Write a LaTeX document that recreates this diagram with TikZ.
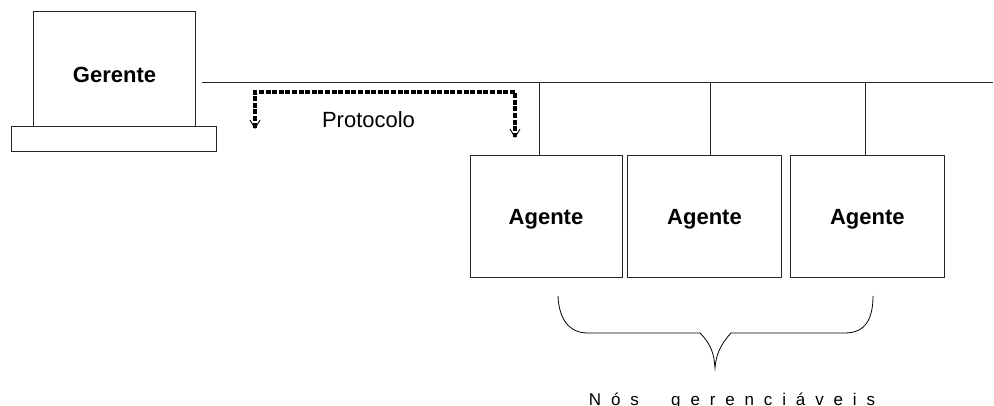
\documentclass[tikz,border=0pt]{standalone}
\usepackage{fontspec}
\setmainfont{Liberation Sans}
\usetikzlibrary{arrows.meta}
\begin{document}
\begin{tikzpicture}[x=1pt,y=-1pt,
  box/.style={draw=black!85,line width=0.9pt,rectangle,inner sep=0pt,fill=white,
    font=\fontsize{22}{26}\selectfont\bfseries,text height=15.75pt,text depth=0pt},
  lbl/.style={inner sep=0pt,anchor=base},
  wire/.style={draw=black!85,line width=0.9pt},
  barb/.tip={Straight Barb[length=8pt,width=10pt,line width=0.9pt]},
  proto/.style={draw=black,line width=3.2pt,dash pattern=on 5pt off 1.6pt,barb-barb},
  spaced/.style={inner sep=0pt,anchor=base west,
    font=\fontsize{17}{20}\selectfont\addfontfeature{LetterSpace=58}}
]
\useasboundingbox (0,0) rectangle (994,406);
% manager
\node[box,minimum width=162pt,minimum height=114.5pt] (ger) at (114,68.8) {};
\node[box,minimum width=205pt,minimum height=25.7pt] (base) at (114.2,138.9) {};
\node[lbl,font=\fontsize{22}{26}\selectfont\bfseries] (gert) at (114.5,82.7) {Gerente};
% bus
\coordinate (busL) at (202,82.5);
\coordinate (busR) at (993,82.5);
\draw[wire] (busL) -- (busR);
% agents
\node[box,minimum width=152pt,minimum height=122pt] (a1) at (546,216.8) {Agente};
\node[box,minimum width=154.4pt,minimum height=122pt] (a2) at (704.5,216.8) {Agente};
\node[box,minimum width=153.3pt,minimum height=122pt] (a3) at (867.3,216.8) {Agente};
\coordinate (d1) at (539.5,82.5);
\coordinate (d2) at (710.7,82.5);
\coordinate (d3) at (865,82.5);
\draw[wire] (d1) -- (d1 |- a1.north);
\draw[wire] (d2) -- (d2 |- a2.north);
\draw[wire] (d3) -- (d3 |- a3.north);
% protocol
\coordinate (p1) at (255,129);
\coordinate (p2) at (255,92);
\coordinate (p3) at (515,92);
\coordinate (p4) at (515,138);
\draw[proto] (p1) -- (p2) -- (p3) -- (p4);
\node[lbl,font=\fontsize{22}{26}\selectfont] (prot) at (368.5,128) {Protocolo};
% brace
\draw[line width=0.8pt] (558,296) .. controls (559,318) and (568,333) .. (588,333)
  -- (700,333) .. controls (712,345) and (714,355) .. (715,368)
  .. controls (716,355) and (720,345) .. (731,333)
  -- (845,333) .. controls (866,333) and (873,318) .. (873,296);
% label
\node[spaced] (nos) at (588.7,405.5) {Nós};
\node[spaced] (ger2) at (671,405.5) {gerenciáveis};
\end{tikzpicture}
\end{document}
